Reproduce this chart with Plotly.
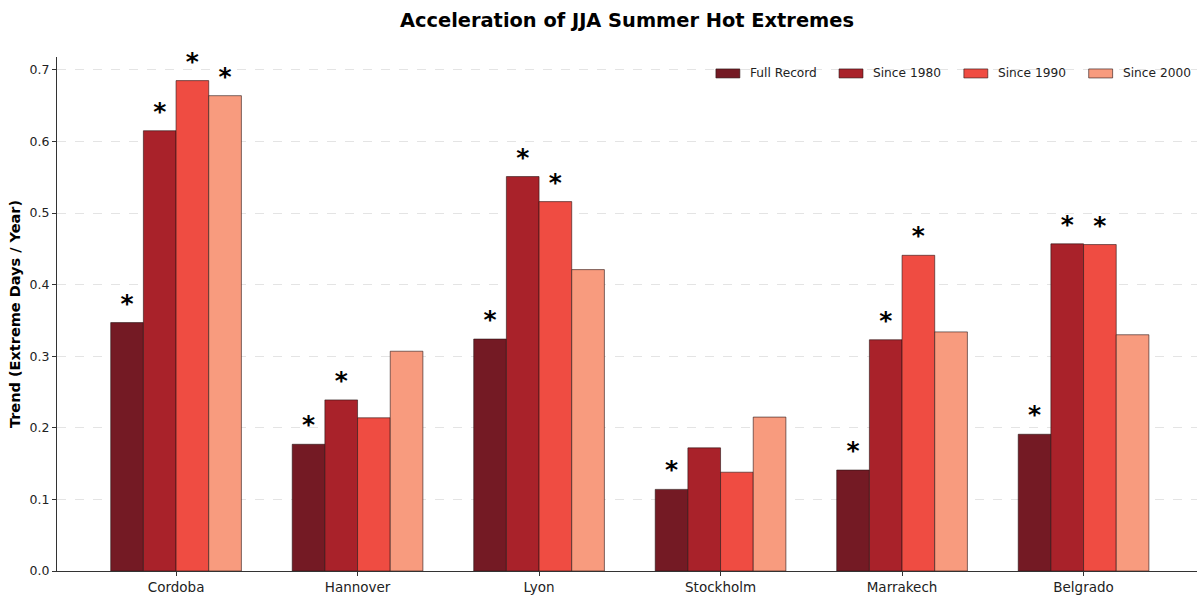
import plotly.graph_objects as go

cities = ["Cordoba", "Hannover", "Lyon", "Stockholm", "Marrakech", "Belgrado"]
periods = ["Full Record", "Since 1980", "Since 1990", "Since 2000"]

full_record = [0.347, 0.177, 0.324, 0.114, 0.141, 0.191]
since_1980 = [0.615, 0.239, 0.551, 0.172, 0.323, 0.457]
since_1990 = [0.685, 0.214, 0.516, 0.138, 0.441, 0.456]
since_2000 = [0.664, 0.307, 0.421, 0.215, 0.334, 0.330]

# significance flags (True -> asterisk above the bar)
sig_full = [True, True, True, True, True, True]
sig_1980 = [True, True, True, False, True, True]
sig_1990 = [True, False, True, False, True, True]
sig_2000 = [True, False, False, False, False, False]

colors = ["#741a24", "#a9222a", "#ef4c42", "#f89b7e"]
edge = "rgba(40,20,20,0.75)"

series = [full_record, since_1980, since_1990, since_2000]
sigs = [sig_full, sig_1980, sig_1990, sig_2000]

bar_w = 0.18
offsets = [-1.5 * bar_w, -0.5 * bar_w, 0.5 * bar_w, 1.5 * bar_w]

fig = go.Figure()
for name, vals, col, off in zip(periods, series, colors, offsets):
    fig.add_trace(go.Bar(
        x=[i + off for i in range(len(cities))],
        y=vals,
        width=bar_w,
        name=name,
        showlegend=False,
        marker=dict(color=col, line=dict(color=edge, width=0.8)),
    ))

star_x, star_y = [], []
for vals, flags, off in zip(series, sigs, offsets):
    for i, (v, s) in enumerate(zip(vals, flags)):
        if s:
            star_x.append(i + off)
            star_y.append(v + 0.024)
fig.add_trace(go.Scatter(
    x=star_x, y=star_y, mode="text", text=["<b>*</b>"] * len(star_x),
    textposition="middle center", cliponaxis=False,
    textfont=dict(family="DejaVu Sans", size=25, color="black"),
    showlegend=False, hoverinfo="skip",
))

# legend: wide rectangular swatches in a single row, top right
leg_x0 = [0.578, 0.686, 0.7955, 0.905]
sw_w, sw_h = 0.021, 0.0175
leg_y = 0.968
shapes, annotations = [], []
for name, col, x0 in zip(periods, colors, leg_x0):
    shapes.append(dict(type="rect", xref="paper", yref="paper",
                       x0=x0, x1=x0 + sw_w, y0=leg_y - sw_h / 2, y1=leg_y + sw_h / 2,
                       fillcolor=col, line=dict(color=edge, width=0.8)))
    annotations.append(dict(xref="paper", yref="paper", x=x0 + sw_w + 0.0072, y=leg_y,
                            xanchor="left", yanchor="middle", showarrow=False, text=name,
                            font=dict(size=12.2, color="#222")))

fig.update_layout(
    width=1197, height=595,
    margin=dict(l=57, r=0, t=57, b=24),
    plot_bgcolor="white", paper_bgcolor="white",
    font=dict(family="DejaVu Sans", color="#222"),
    title=dict(text="<b>Acceleration of JJA Summer Hot Extremes</b>",
               x=0.5, xref="paper", xanchor="center", y=0.966, yanchor="middle",
               font=dict(size=19.4, color="black")),
    barmode="overlay",
    showlegend=False,
    shapes=shapes,
    annotations=annotations,
    xaxis=dict(range=[-0.656, 5.625], tickvals=list(range(len(cities))), ticktext=cities,
               showgrid=False, zeroline=False, showline=True, linecolor="#333", linewidth=1,
               ticks="outside", ticklen=4, tickcolor="#333", tickfont=dict(size=13.5)),
    yaxis=dict(range=[0, 0.718], dtick=0.1, tickformat=".1f",
               showgrid=True, gridcolor="#e4e4e4", griddash="dash", gridwidth=1,
               zeroline=False, showline=True, linecolor="#333", linewidth=1,
               ticks="outside", ticklen=4, tickcolor="#333", tickfont=dict(size=12.5),
               title=dict(text="<b>Trend (Extreme Days / Year)</b>", font=dict(size=14.5, color="black"),
                          standoff=5)),
)

fig.write_html("out.html")
